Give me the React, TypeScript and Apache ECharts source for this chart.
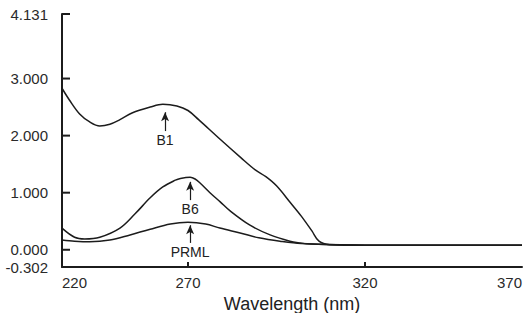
import React, { useEffect, useRef } from "react";
import * as echarts from "echarts";

// ---- data (wavelength in nm, absorbance) ----
const B1_WL = [220, 223, 227, 231, 235, 239, 243, 248, 255, 260, 265.6, 270, 273, 279, 285, 289, 292, 295, 299, 302, 305, 307, 310, 320, 340, 370];
const B1_ABS = [2.83, 2.62, 2.38, 2.24, 2.17, 2.2, 2.28, 2.4, 2.5, 2.55, 2.52, 2.44, 2.28, 1.94, 1.61, 1.4, 1.28, 1.12, 0.82, 0.59, 0.33, 0.15, 0.09, 0.08, 0.08, 0.08];

const B6_WL = [220, 225, 229, 235, 243, 249, 255, 260, 265, 267, 270.6, 272, 273.4, 276.2, 279.1, 281.9, 287.5, 293.2, 298.8, 301.6, 304.5, 320, 370];
const B6_ABS = [0.38, 0.22, 0.19, 0.22, 0.38, 0.63, 0.91, 1.1, 1.22, 1.25, 1.27, 1.24, 1.17, 1.0, 0.84, 0.68, 0.43, 0.26, 0.15, 0.12, 0.1, 0.08, 0.08];

const PRML_WL = [220, 225, 231, 239, 247, 255, 263, 270, 275, 279, 285, 290, 296, 302, 320, 370];
const PRML_ABS = [0.17, 0.15, 0.14, 0.17, 0.26, 0.36, 0.45, 0.48, 0.45, 0.38, 0.29, 0.21, 0.15, 0.11, 0.08, 0.08];

const X_TICKS = [220, 270, 320, 370];
const Y_TICKS = [-0.302, 0, 1, 2, 3, 4.131];

// annotations
const ARROW_LABELS = ["B1", "B6", "PRML"];
const ARROW_WL = [260.9, 270.6, 270.6];
const ARROW_FROM = [2.08, 0.87, 0.12];
const ARROW_TO = [2.41, 1.19, 0.43];

// ---- layout: the printed wavelength axis is not evenly spaced ----
const X_KNOT_FRAC = [0, 0.2739, 0.6587, 1];
const X_MIN = 220;
const X_MAX = 370;
const Y_MIN = -0.302;
const Y_MAX = 4.131;
const Y_TICK_LEN_PX = 8;
const X_TICK_LEN_PX = 5;

const toU = (nm: number) => {
  for (let i = 0; i < X_TICKS.length - 1; i++) {
    const a = X_TICKS[i];
    const b = X_TICKS[i + 1];
    if (nm <= b || i === X_TICKS.length - 2) {
      const t = (nm - a) / (b - a);
      const f = X_KNOT_FRAC[i] + t * (X_KNOT_FRAC[i + 1] - X_KNOT_FRAC[i]);
      return X_MIN + f * (X_MAX - X_MIN);
    }
  }
  return nm;
};

const FONT = '"Liberation Sans", Arial, Helvetica, sans-serif';
const INK = "#1c1c1c";
const LABEL_INK = "#2a2a2a";

export default function App() {
  const ref = useRef<HTMLDivElement>(null);
  useEffect(() => {
    if (!ref.current) return;
    const chart = echarts.init(ref.current, undefined, { renderer: "svg" });
    const mk = (wl: number[], ab: number[]) => wl.map((w, i) => [toU(w), ab[i]]);
    const tickU = X_TICKS.map(toU);

    const lineSeries = (name: string, wl: number[], ab: number[], k: number) => ({
      name,
      type: "line",
      data: mk(wl, ab),
      showSymbol: false,
      smooth: 0.35,
      lineStyle: { color: INK, width: 1.5 },
      silent: true,
      markLine: {
        silent: true,
        symbol: ["none", "arrow"],
        symbolSize: [6, 9],
        lineStyle: { color: INK, width: 1.2, type: "solid" },
        label: {
          show: true,
          position: "start",
          distance: 2,
          formatter: ARROW_LABELS[k],
          color: "#222",
          fontSize: 14,
          fontFamily: FONT,
        },
        data: [
          [
            { coord: [toU(ARROW_WL[k]), ARROW_FROM[k]] },
            { coord: [toU(ARROW_WL[k]), ARROW_TO[k]] },
          ],
        ],
      },
    });

    chart.setOption({
      animation: false,
      backgroundColor: "#ffffff",
      grid: { left: 62, right: 7, top: 14, bottom: 46, containLabel: false, outerBoundsMode: "none" },
      xAxis: {
        type: "value",
        min: X_MIN,
        max: X_MAX,
        name: "Wavelength (nm)",
        nameLocation: "middle",
        nameGap: 22,
        nameTextStyle: { fontSize: 18, color: "#222", fontFamily: FONT },
        axisLine: { show: true, onZero: false, lineStyle: { color: INK, width: 2 } },
        axisTick: { show: false },
        axisLabel: {
          customValues: tickU,
          formatter: (v: number) => {
            let best = 0;
            tickU.forEach((u, i) => {
              if (Math.abs(u - v) < Math.abs(tickU[best] - v)) best = i;
            });
            return String(X_TICKS[best]);
          },
          alignMinLabel: "left",
          alignMaxLabel: "right",
          margin: 8,
          fontSize: 15,
          color: LABEL_INK,
          fontFamily: FONT,
        },
        splitLine: { show: false },
      },
      yAxis: {
        type: "value",
        min: Y_MIN,
        max: Y_MAX,
        axisLine: { show: true, onZero: false, lineStyle: { color: INK, width: 2 } },
        axisTick: { show: false },
        axisLabel: {
          customValues: Y_TICKS,
          formatter: (v: number) => Number(v).toFixed(3),
          margin: 14,
          fontSize: 15,
          color: LABEL_INK,
          fontFamily: FONT,
          showMinLabel: true,
          showMaxLabel: true,
        },
        splitLine: { show: false },
      },
      series: [
        lineSeries("B1", B1_WL, B1_ABS, 0),
        lineSeries("B6", B6_WL, B6_ABS, 1),
        lineSeries("PRML", PRML_WL, PRML_ABS, 2),
      ],
    });

    // axis tick marks, positioned through the chart's own scales
    const pix = (x: number, y: number) => chart.convertToPixel({ xAxisIndex: 0, yAxisIndex: 0 }, [x, y]) as number[];
    const elements: any[] = [];
    Y_TICKS.slice(1).forEach((v) => {
      const p = pix(X_MIN, v);
      elements.push({
        type: "rect",
        silent: true,
        z: 100,
        shape: { x: p[0], y: p[1] - 1, width: Y_TICK_LEN_PX, height: 2 },
        style: { fill: INK },
      });
    });
    tickU.slice(1, 3).forEach((u) => {
      const p = pix(u, Y_MIN);
      elements.push({
        type: "rect",
        silent: true,
        z: 100,
        shape: { x: p[0] - 1, y: p[1] - X_TICK_LEN_PX, width: 2, height: X_TICK_LEN_PX },
        style: { fill: INK },
      });
    });
    chart.setOption({ graphic: { elements } });

    return () => chart.dispose();
  }, []);
  return (
    <div
      ref={ref}
      style={{ position: "fixed", left: 0, top: 0, width: 529, height: 313, background: "#fff" }}
    />
  );
}
